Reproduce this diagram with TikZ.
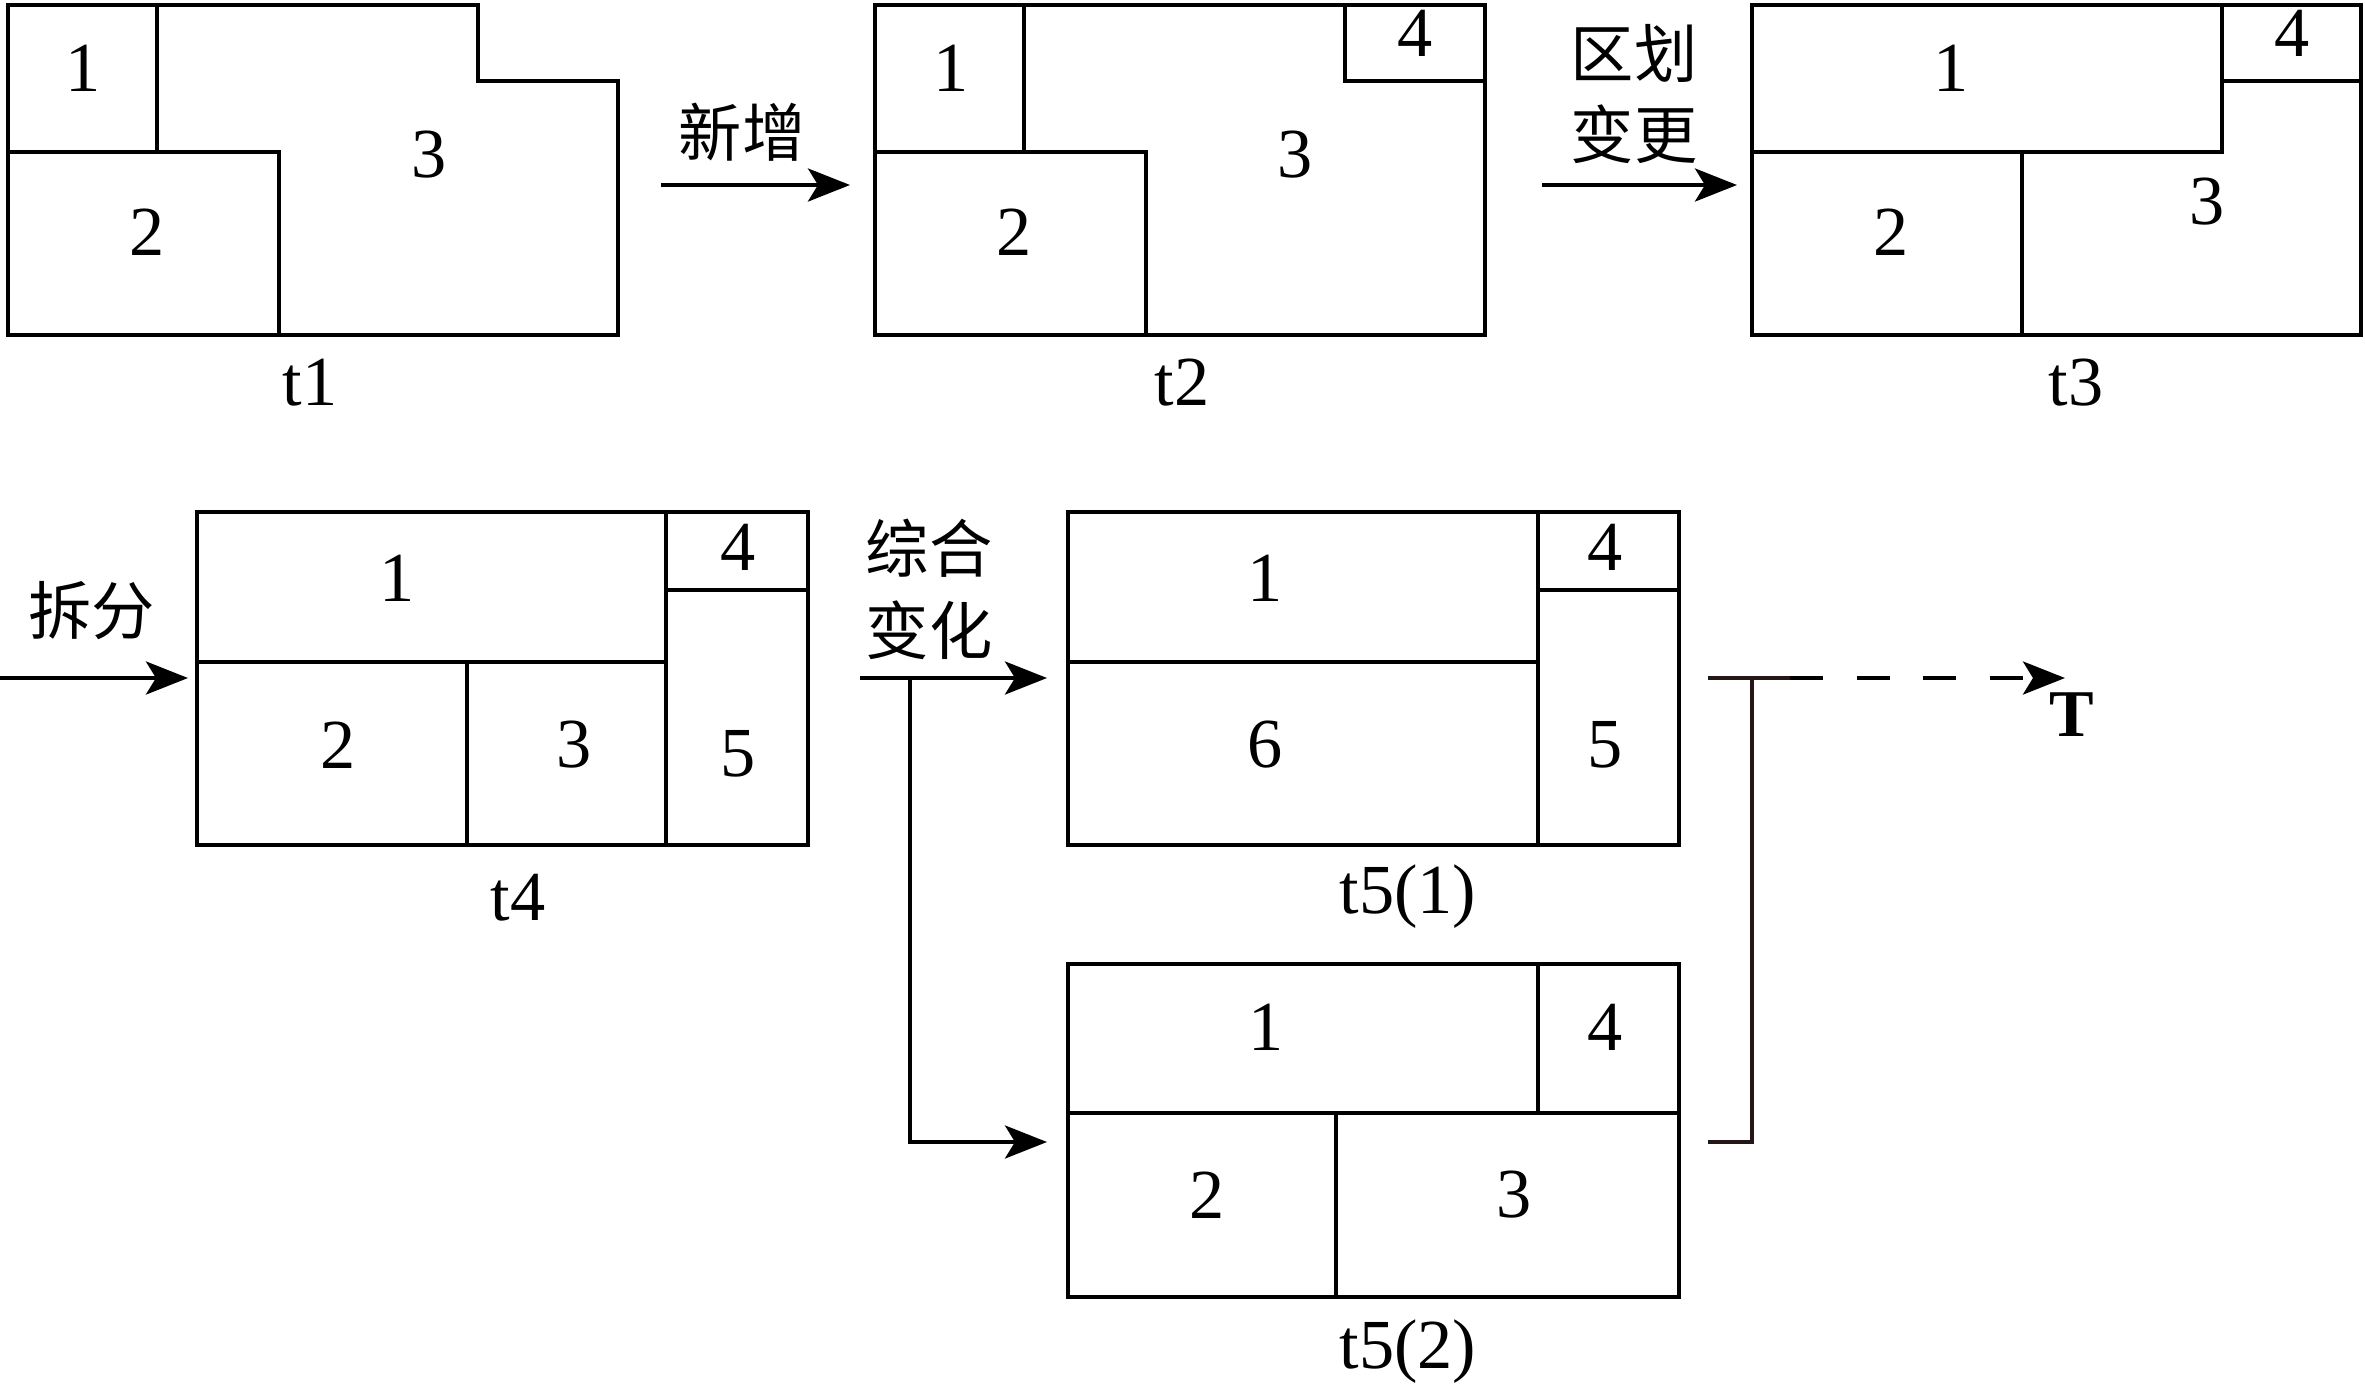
\documentclass[tikz,border=0pt]{standalone}
\usepackage{fontspec}
\setmainfont{Liberation Serif}
\newfontfamily\cjk{Noto Sans CJK SC}
\usetikzlibrary{arrows.meta}
\definecolor{brk}{RGB}{35,24,21}
\tikzset{
  outer/.style={line width=1.4pt, line join=miter},
  inner/.style={line width=1.1pt},
  arr/.style={line width=1.15pt, -{Stealth[length=0.42cm,width=0.33cm,inset=0.1cm]}},
  num/.style={inner sep=0pt, font=\fontsize{20}{24}\selectfont},
  tlabel/.style={inner sep=0pt, font=\fontsize{20}{24}\selectfont},
  zh/.style={inner sep=0pt, font=\cjk\fontsize{18}{22}\selectfont},
  bold/.style={inner sep=0pt, font=\bfseries\fontsize{19}{23}\selectfont},
  brack/.style={line width=1.15pt, draw=brk}
}
\begin{document}
\begin{tikzpicture}[x=0.01cm,y=-0.01cm]
\useasboundingbox (0,0) rectangle (2365,1384);
% ---------- t1 ----------
\draw[outer] (8,5) -- (478,5) -- (478,81) -- (618,81) -- (618,335) -- (8,335) -- cycle;
\draw[inner] (157,5) -- (157,152);
\draw[inner] (8,152) -- (279,152) -- (279,335);
\node[num] (t1a) at (83,68) {1};
\node[num] (t1b) at (147,232) {2};
\node[num] (t1c) at (429,155) {3};
\node[tlabel] (t1l) at (310,383) {t1};
% ---------- t2 ----------
\draw[outer] (875,5) rectangle (1485,335);
\draw[inner] (1024,5) -- (1024,152);
\draw[inner] (875,152) -- (1146,152) -- (1146,335);
\draw[inner] (1345,5) -- (1345,81) -- (1485,81);
\node[num] (t2a) at (951,68) {1};
\node[num] (t2b) at (1014,232) {2};
\node[num] (t2c) at (1295,155) {3};
\node[num] (t2d) at (1415,33) {4};
\node[tlabel] (t2l) at (1182,383) {t2};
% ---------- t3 ----------
\draw[outer] (1752,5) rectangle (2361,335);
\draw[inner] (1752,152) -- (2222,152) -- (2222,5);
\draw[inner] (2222,81) -- (2361,81);
\draw[inner] (2022,152) -- (2022,335);
\node[num] (t3a) at (1951,68) {1};
\node[num] (t3d) at (2292,33) {4};
\node[num] (t3b) at (1891,232) {2};
\node[num] (t3c) at (2207,202) {3};
\node[tlabel] (t3l) at (2076,383) {t3};
% ---------- arrows row 1 ----------
\coordinate (a1s) at (661,185);
\coordinate (a1e) at (850,185);
\draw[arr] (a1s) -- (a1e);
\node[zh] (a1l) at (742,132) {新增};
\coordinate (a2s) at (1542,185);
\coordinate (a2e) at (1737,185);
\draw[arr] (a2s) -- (a2e);
\node[zh] (a2l1) at (1634,53) {区划};
\node[zh] (a2l2) at (1634,134) {变更};
% ---------- t4 ----------
\coordinate (a3s) at (0,678);
\coordinate (a3e) at (188,678);
\draw[arr] (a3s) -- (a3e);
\node[zh] (a3l) at (92,611) {拆分};
\draw[outer] (197,512) rectangle (808,845);
\draw[inner] (197,662) -- (666,662);
\draw[inner] (666,512) -- (666,845);
\draw[inner] (666,590) -- (808,590);
\draw[inner] (467,662) -- (467,845);
\node[num] (t4a) at (397,578) {1};
\node[num] (t4d) at (738,547) {4};
\node[num] (t4b) at (338,745) {2};
\node[num] (t4c) at (574,745) {3};
\node[num] (t4e) at (738,754) {5};
\node[tlabel] (t4l) at (518,898) {t4};
% ---------- combined change arrows ----------
\node[zh] (a4l1) at (929,548) {综合};
\node[zh] (a4l2) at (929,630) {变化};
\coordinate (a4s) at (860,678);
\coordinate (a4e) at (1047,678);
\coordinate (a4k) at (910,678);
\coordinate (a4c) at (910,1142);
\coordinate (a5e) at (1047,1142);
\draw[arr] (a4s) -- (a4e);
\draw[arr] (a4k) -- (a4c) -- (a5e);
% ---------- t5(1) ----------
\draw[outer] (1068,512) rectangle (1679,845);
\draw[inner] (1068,662) -- (1538,662);
\draw[inner] (1538,512) -- (1538,845);
\draw[inner] (1538,590) -- (1679,590);
\node[num] (t51a) at (1265,578) {1};
\node[num] (t51d) at (1605,547) {4};
\node[num] (t51f) at (1265,745) {6};
\node[num] (t51e) at (1605,745) {5};
\node[tlabel] (t51l) at (1408,897) {t5(1)};
% ---------- t5(2) ----------
\draw[outer] (1068,964) rectangle (1679,1297);
\draw[inner] (1068,1113) -- (1679,1113);
\draw[inner] (1538,964) -- (1538,1113);
\draw[inner] (1336,1113) -- (1336,1297);
\node[num] (t52a) at (1266,1027) {1};
\node[num] (t52d) at (1605,1027) {4};
\node[num] (t52b) at (1207,1195) {2};
\node[num] (t52c) at (1514,1195) {3};
\node[tlabel] (t52l) at (1408,1352) {t5(2)};
% ---------- bracket and dashed arrow to T ----------
\coordinate (b1) at (1708,678);
\coordinate (b2) at (1752,678);
\coordinate (b3) at (1790,678);
\coordinate (b4) at (1752,1142);
\coordinate (b5) at (1708,1142);
\draw[brack] (b1) -- (b3);
\draw[brack] (b2) -- (b4) -- (b5);
\coordinate (b6) at (2065,678);
\draw[arr, dash pattern=on 0.33cm off 0.335cm] (b3) -- (b6);
\node[bold] (tT) at (2072,715) {T};
\end{tikzpicture}
\end{document}
